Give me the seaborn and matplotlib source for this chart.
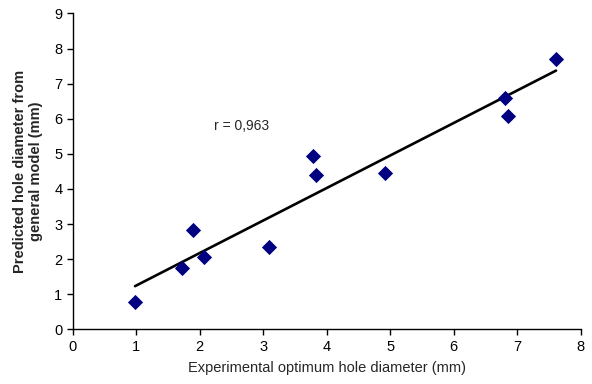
import matplotlib
matplotlib.use("Agg")
import matplotlib.pyplot as plt
import seaborn as sns
import pandas as pd

experimental = [0.98, 1.72, 1.90, 2.07, 3.09, 3.79, 3.83, 4.92, 6.81, 6.86, 7.61]
predicted = [0.78, 1.76, 2.82, 2.05, 2.34, 4.94, 4.39, 4.44, 6.60, 6.09, 7.70]
x_ticks = [0, 1, 2, 3, 4, 5, 6, 7, 8]
y_ticks = [0, 1, 2, 3, 4, 5, 6, 7, 8, 9]
r_label = "r = 0,963"

sns.set_style("ticks")
plt.rcParams['font.family'] = ['Liberation Sans', 'DejaVu Sans']

df = pd.DataFrame({"exp": experimental, "pred": predicted})

fig = plt.figure(figsize=(5.92, 3.84), dpi=100)
ax = fig.add_axes([0.123, 0.1424, 0.858, 0.8226])

sns.regplot(data=df, x="exp", y="pred", ax=ax, ci=None, marker="D",
            scatter_kws=dict(s=60, color="#000080", alpha=1, linewidths=0, zorder=3),
            line_kws=dict(color="black", lw=1.9, zorder=2))

ax.set_xlim(0, 8)
ax.set_ylim(0, 9)
ax.set_xticks(x_ticks)
ax.set_yticks(y_ticks)
sns.despine(ax=ax)
for s in ("left", "bottom"):
    ax.spines[s].set_color("black")
    ax.spines[s].set_linewidth(1.0)
ax.tick_params(axis="both", direction="out", length=4, width=1, colors="black", labelsize=10.5)

ax.set_xlabel("Experimental optimum hole diameter (mm)", fontsize=10.5, labelpad=5)
ax.set_ylabel("Predicted hole diameter from\ngeneral model (mm)", fontsize=10.5, fontweight="bold", labelpad=8)

ax.text(2.22, 5.79, r_label, fontsize=10, va="center", ha="left")

fig.savefig("out.png", dpi=100)
